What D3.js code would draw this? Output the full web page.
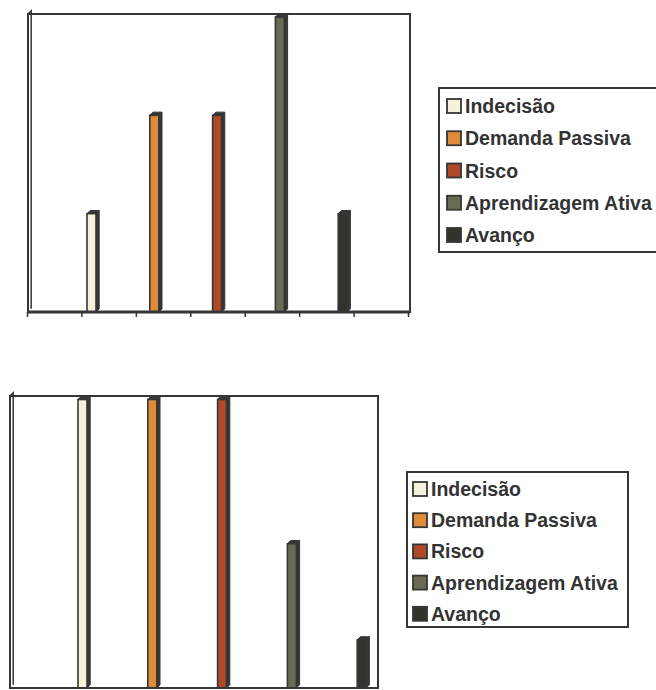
<!DOCTYPE html>
<html>
<head>
<meta charset="utf-8">
<script src="https://cdn.jsdelivr.net/npm/d3@7"></script>
<style>
  html, body { margin: 0; padding: 0; background: #fff; }
  svg { display: block; }
</style>
</head>
<body>
<div id="chart"></div>
<script>
// ---- data ----
const categories = ["Indecisão", "Demanda Passiva", "Risco", "Aprendizagem Ativa", "Avanço"];
const colors = ["#f5f2dc", "#e08b3a", "#b0482a", "#6b6b55", "#33332b"];
const valuesTop = [1, 2, 2, 3, 1];
const valuesBottom = [6, 6, 6, 3, 1];
const yMaxTop = 3;
const yMaxBottom = 6;
const topTickCount = 7;

const W = 656, H = 690;
const ink = "#363636";
const svg = d3.select("#chart").append("svg").attr("width", W).attr("height", H);

function drawPanel(cfg) {
  const g = svg.append("g");
  const x = d3.scaleLinear().domain([0, categories.length + 1]).range(cfg.xRange);
  const y = d3.scaleLinear().domain([0, cfg.yMax]).range([cfg.base, cfg.yTop]);
  const bw = 9, d = 3.2;

  // frame
  g.append("rect")
    .attr("x", cfg.frame[0]).attr("y", cfg.top)
    .attr("width", cfg.frame[1] - cfg.frame[0]).attr("height", cfg.base - cfg.top)
    .attr("fill", "#fff").attr("stroke", ink).attr("stroke-width", 2);
  // left 3D wall
  g.append("path")
    .attr("d", `M${cfg.frame[0]},${cfg.base} V${cfg.top} l${d},-${d} V${cfg.base - d}`)
    .attr("fill", "none").attr("stroke", ink).attr("stroke-width", 1.5);

  const bars = g.selectAll("g.bar").data(cfg.values).join("g").attr("class", "bar");
  bars.each(function (v, i) {
    const b = d3.select(this);
    const x0 = x(i + 1) - bw / 2;
    const yt = y(v);
    // side
    b.append("path")
      .attr("d", `M${x0 + bw},${yt} L${x0 + bw + d},${yt - d} L${x0 + bw + d},${cfg.base - d} L${x0 + bw},${cfg.base} Z`)
      .attr("fill", ink).attr("stroke", ink).attr("stroke-width", 1);
    // top
    b.append("path")
      .attr("d", `M${x0},${yt} L${x0 + d},${yt - d} L${x0 + bw + d},${yt - d} L${x0 + bw},${yt} Z`)
      .attr("fill", ink).attr("stroke", ink).attr("stroke-width", 1);
    // front
    b.append("rect")
      .attr("x", x0).attr("y", yt).attr("width", bw).attr("height", cfg.base - yt)
      .attr("fill", colors[i]).attr("stroke", ink).attr("stroke-width", 1.6);
  });

  // baseline
  g.append("line")
    .attr("x1", cfg.frame[0]).attr("x2", cfg.frame[1])
    .attr("y1", cfg.base).attr("y2", cfg.base)
    .attr("stroke", ink).attr("stroke-width", cfg.baseWidth);

  if (cfg.ticks) {
    const xt = d3.scaleLinear().domain([0, topTickCount]).range(cfg.tickRange);
    g.append("g")
      .attr("transform", `translate(0,${cfg.base})`)
      .call(d3.axisBottom(xt).tickValues(d3.range(topTickCount + 1)).tickSize(5).tickFormat(""))
      .call(a => a.select(".domain").remove())
      .call(a => a.selectAll("line").attr("stroke", ink).attr("stroke-width", 1.5));
  }

  // legend
  const L = cfg.legend;
  const lg = svg.append("g");
  lg.append("rect")
    .attr("x", L.x).attr("y", L.y).attr("width", L.w).attr("height", L.h)
    .attr("fill", "#fff").attr("stroke", ink).attr("stroke-width", 2);
  const items = lg.selectAll("g.item").data(categories).join("g").attr("class", "item")
    .attr("transform", (c, i) => `translate(${L.sx},${L.cy + i * L.step})`);
  items.append("rect")
    .attr("x", 0).attr("y", -7).attr("width", 14).attr("height", 14)
    .attr("fill", (c, i) => colors[i]).attr("stroke", ink).attr("stroke-width", 1.8);
  items.append("text")
    .attr("x", 18).attr("y", 0).attr("dy", "0.36em")
    .attr("font-family", "'Liberation Sans', Arial, sans-serif")
    .attr("font-weight", "bold").attr("font-size", "19.5px")
    .attr("fill", "#333")
    .text(c => c);
}

drawPanel({
  values: valuesTop, yMax: yMaxTop,
  xRange: [28.7, 405.5], frame: [28, 410], top: 14, yTop: 17, base: 312, baseWidth: 3,
  ticks: true, tickRange: [27, 408],
  legend: { x: 439, y: 88, w: 240, h: 164, sx: 447, cy: 106, step: 32.25 }
});

drawPanel({
  values: valuesBottom, yMax: yMaxBottom,
  xRange: [12.7, 431.5], frame: [10, 378], top: 396, yTop: 399.5, base: 688, baseWidth: 2,
  ticks: false,
  legend: { x: 407, y: 472, w: 221, h: 155, sx: 413, cy: 489, step: 31.2 }
});
</script>
</body>
</html>
